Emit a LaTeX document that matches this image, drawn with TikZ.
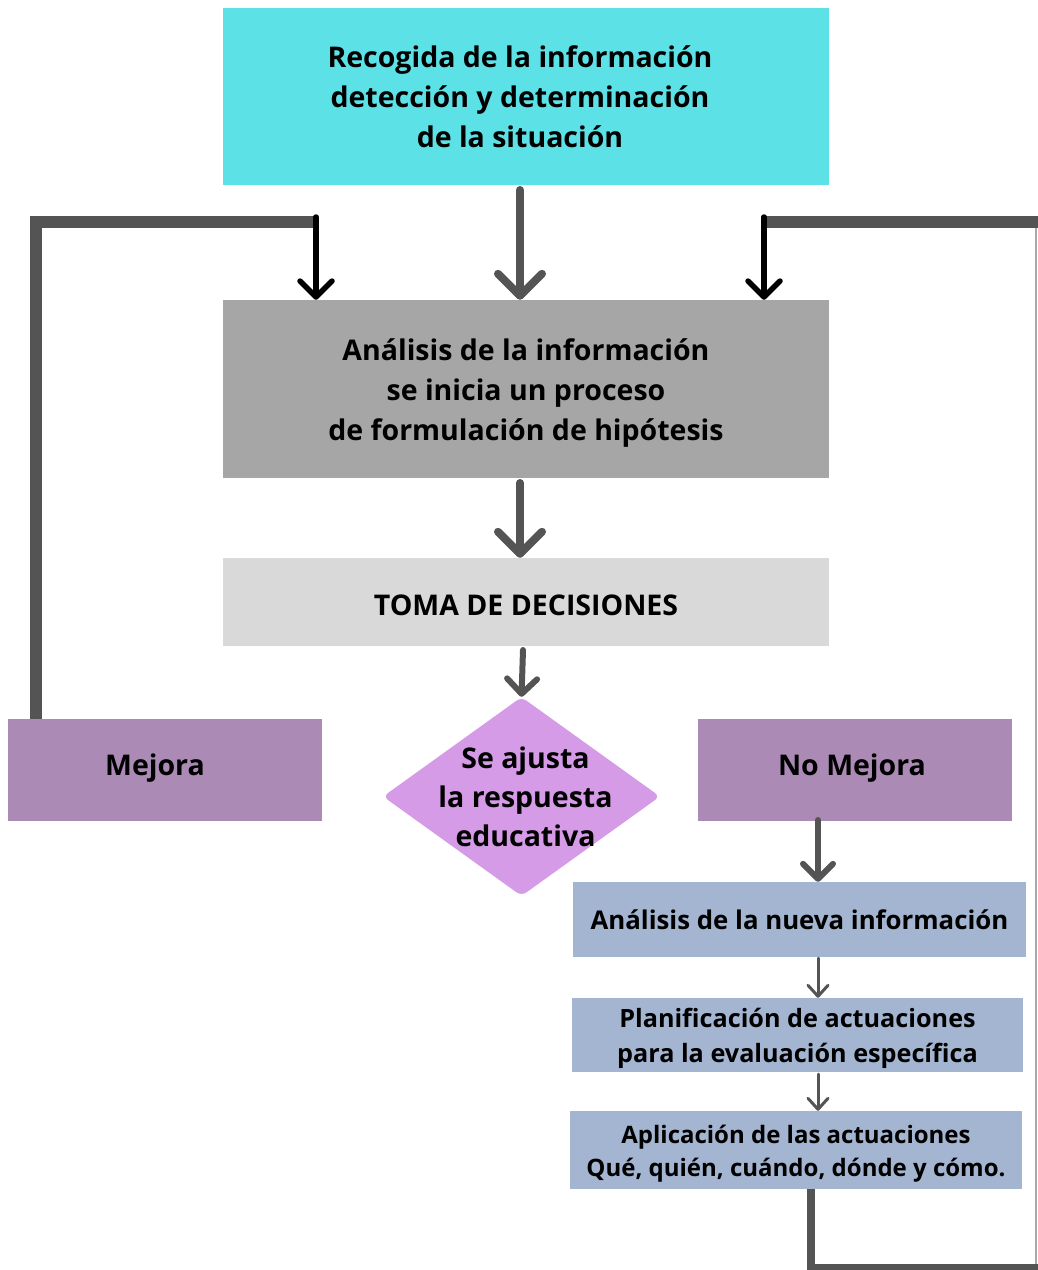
\documentclass[tikz,border=0pt]{standalone}
\usepackage{fontspec}
\setmainfont{Open Sans}
\usetikzlibrary{shapes.geometric,arrows.meta}
\definecolor{cyanbox}{HTML}{5CE1E6}
\definecolor{graybox}{HTML}{A6A6A6}
\definecolor{lightbox}{HTML}{D9D9D9}
\definecolor{purplebox}{HTML}{AB8BB5}
\definecolor{pinkbox}{HTML}{D69BE6}
\definecolor{bluebox}{HTML}{A3B5D0}
\definecolor{darkline}{HTML}{545454}
\definecolor{thingray}{HTML}{A8A8A8}
\tikzset{
  box/.style={rectangle, inner sep=0pt},
  lbl/.style={align=center, inner sep=0pt},
  bigfont/.style={font=\bfseries\fontsize{28.5}{40}\selectfont},
  bigarrow/.style={draw=darkline, line width=8pt, line cap=round,
    -{Straight Barb[length=22pt, width=44pt, line cap=round, line join=round]}},
  medarrow/.style={draw=darkline, line width=6pt, line cap=round,
    -{Straight Barb[length=15pt, width=30pt, line cap=round, line join=round]}},
  blackarrow/.style={draw=black, line width=5.5pt, line cap=round,
    -{Straight Barb[length=16pt, width=32pt, line cap=round, line join=round]}},
  smallarrow/.style={draw=darkline, line width=3pt, line cap=round,
    -{Straight Barb[length=11pt, width=20pt, line cap=round, line join=round]}},
  loopline/.style={draw=darkline, line width=11.5pt, line join=miter, line cap=butt},
}
\begin{document}
\begin{tikzpicture}[x=1pt,y=-1pt]
\useasboundingbox (0,0) rectangle (1037,1270);
% boxes
\node[box, fill=cyanbox, minimum width=606pt, minimum height=177pt,
  label={[lbl, bigfont, xshift=-6pt]center:Recogida de la información\\detección y determinación\\de la situación}] (top) at (526,96.5) {};
\node[box, fill=graybox, minimum width=606pt, minimum height=178pt,
  label={[lbl, bigfont, yshift=-4pt]center:Análisis de la información\\se inicia un proceso\\de formulación de hipótesis}] (ana) at (526,389) {};
\node[box, fill=lightbox, minimum width=606pt, minimum height=88pt,
  label={[lbl, bigfont, yshift=-3pt]center:TOMA DE DECISIONES}] (toma) at (526,602) {};
\node[box, fill=purplebox, minimum width=314pt, minimum height=102pt,
  label={[lbl, bigfont, xshift=-10pt, yshift=2pt]center:Mejora}] (mej) at (165,770) {};
\node[box, fill=purplebox, minimum width=314pt, minimum height=102pt,
  label={[lbl, bigfont, xshift=-3pt, yshift=2pt]center:No Mejora}] (nom) at (855,770) {};
\node[diamond, fill=pinkbox, inner sep=0pt, minimum width=277pt, minimum height=199pt, rounded corners=6pt,
  label={[lbl, font=\bfseries\fontsize{28.5}{39}\selectfont, xshift=4pt]center:Se ajusta\\la respuesta\\educativa}] (dia) at (521.5,796.5) {};
\node[box, fill=bluebox, minimum width=453pt, minimum height=75pt,
  label={[lbl, font=\bfseries\fontsize{25.8}{35}\selectfont]center:Análisis de la nueva información}] (nue) at (799.5,919.5) {};
\node[box, fill=bluebox, minimum width=451pt, minimum height=74pt,
  label={[lbl, font=\bfseries\fontsize{25.2}{35}\selectfont, yshift=-3pt]center:Planificación de actuaciones\\para la evaluación específica}] (pla) at (797.5,1035) {};
\node[box, fill=bluebox, minimum width=452pt, minimum height=78pt,
  label={[lbl, font=\bfseries\fontsize{24}{33}\selectfont, yshift=-4pt]center:Aplicación de las actuaciones\\Qué, quién, cuándo, dónde y cómo.}] (apl) at (796,1150) {};
% main arrows
\coordinate (c1) at (520,190);
\draw[bigarrow] (c1) -- (ana.north -| c1);
\coordinate (c2) at (520,483);
\draw[bigarrow] (c2) -- (toma.north -| c2);
\coordinate (c3) at (523,650);
\draw[medarrow] (c3) -- (dia.north);
\coordinate (c4) at (818,820);
\draw[medarrow] (c4) -- (nue.north -| c4);
\coordinate (c5) at (818,958);
\draw[smallarrow] (c5) -- (pla.north -| c5);
\coordinate (c6) at (818,1074);
\draw[smallarrow] (c6) -- (apl.north -| c6);
% left loop
\coordinate (L1) at (36,222);
\coordinate (L2) at (317,222);
\draw[loopline] (mej.north -| L1) -- (L1) -- (L2);
\coordinate (A1) at (316,217);
\draw[blackarrow] (A1) -- (ana.north -| A1);
% right loop
\coordinate (R1) at (811,1268);
\coordinate (R2) at (1040,1268);
\draw[loopline, line width=8pt] (apl.south -| R1) -- (R1) -- (R2);
\coordinate (R3) at (1036,1264);
\coordinate (R4) at (1036,226);
\draw[thingray, line width=2pt] (R3) -- (R4);
\coordinate (R5) at (1040,222);
\coordinate (R6) at (763,222);
\draw[loopline] (R5) -- (R6);
\coordinate (A2) at (764,217);
\draw[blackarrow] (A2) -- (ana.north -| A2);
\end{tikzpicture}
\end{document}
